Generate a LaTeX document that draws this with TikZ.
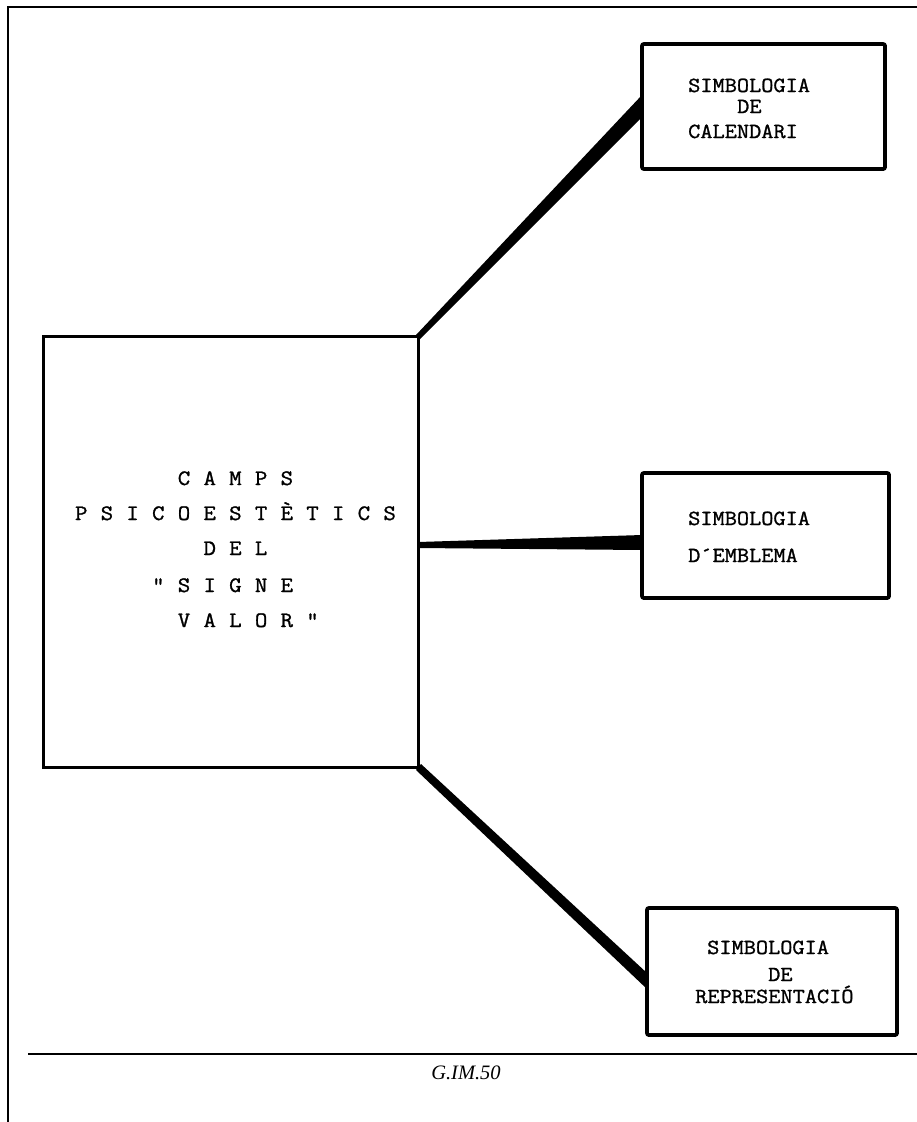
\documentclass[tikz,border=0pt]{standalone}
\usepackage{fontspec}
\setmainfont{Liberation Serif}
\newfontfamily\tw[FakeBold=1.2,FakeStretch=1.1]{Latin Modern Mono}
\newcommand\gl[1]{\makebox[25.7pt]{#1}}
\begin{document}
\begin{tikzpicture}[x=1pt,y=-1pt,
  frame/.style={line width=1.6pt},
  mainbox/.style={draw,line width=3pt,minimum width=375pt,minimum height=431pt,inner sep=0pt,outer sep=0pt},
  sidebox/.style={draw,line width=3.8pt,rounded corners=2pt,inner sep=0pt,outer sep=0pt},
  wire/.style={fill=black},
  sm/.style={font=\tw\fontsize{21.5pt}{22pt}\selectfont,inner sep=0pt,anchor=base west},
  big/.style={font=\tw\fontsize{22pt}{24pt}\selectfont,inner sep=0pt,anchor=base west},
  captext/.style={font=\itshape\fontsize{20.5pt}{22pt}\selectfont,inner sep=0pt,anchor=base},
]
\useasboundingbox (0,0) rectangle (917,1122);
\draw[frame] (917,7) -- (8,7) -- (8,1122);
\draw[line width=2.4pt] (28,1054) -- (917,1054);

\node[mainbox] (m) at (230.5,551.5) {};
\node[sidebox,minimum width=243pt,minimum height=125pt] (c1) at (763.5,106.5) {};
\node[sidebox,minimum width=247pt,minimum height=125pt] (c2) at (765.5,535.5) {};
\node[sidebox,minimum width=250pt,minimum height=127pt] (c3) at (772,971.5) {};

\fill[wire] ([shift={(-2,-1)}]m.north east) -- ([shift={(0,-11.5)}]c1.west) -- ([shift={(0,10.5)}]c1.west) -- ([shift={(2,3)}]m.north east) -- cycle;
\fill[wire] ([shift={(0,-9.5)}]m.east) -- ([shift={(0,-0.5)}]c2.west) -- ([shift={(0,14.5)}]c2.west) -- ([shift={(0,-3.5)}]m.east) -- cycle;
\fill[wire] ([shift={(3,-3)}]m.south east) -- ([shift={(0,1.5)}]c3.west) -- ([shift={(0,17.5)}]c3.west) -- ([shift={(-2,3)}]m.south east) -- cycle;

\node[big] (t1) at (68.2,485) {\gl{}\gl{}\gl{}\gl{}\gl{C}\gl{A}\gl{M}\gl{P}\gl{S}};
\node[big] (t2) at (68.2,520) {\gl{P}\gl{S}\gl{I}\gl{C}\gl{O}\gl{E}\gl{S}\gl{T}\gl{È}\gl{T}\gl{I}\gl{C}\gl{S}};
\node[big] (t3) at (68.2,555) {\gl{}\gl{}\gl{}\gl{}\gl{}\gl{D}\gl{E}\gl{L}};
\node[big] (t4) at (68.2,592) {\gl{}\gl{}\gl{}\gl{"}\gl{S}\gl{I}\gl{G}\gl{N}\gl{E}};
\node[big] (t5) at (68.2,627) {\gl{}\gl{}\gl{}\gl{}\gl{V}\gl{A}\gl{L}\gl{O}\gl{R}\gl{"}};

\node[sm] (a1) at (688,92) {SIMBOLOGIA};
\node[sm] (a2) at (737,113) {DE};
\node[sm] (a3) at (688,138) {CALENDARI};

\node[sm] (b1) at (688,525) {SIMBOLOGIA};
\node[sm] (b2) at (688,562) {D´EMBLEMA};

\node[sm] (d1) at (707,954) {SIMBOLOGIA};
\node[sm] (d2) at (768,981) {DE};
\node[sm] (d3) at (695,1003) {REPRESENTACIÓ};

\node[captext] (g) at (466,1079) {G.IM.50};
\end{tikzpicture}
\end{document}
